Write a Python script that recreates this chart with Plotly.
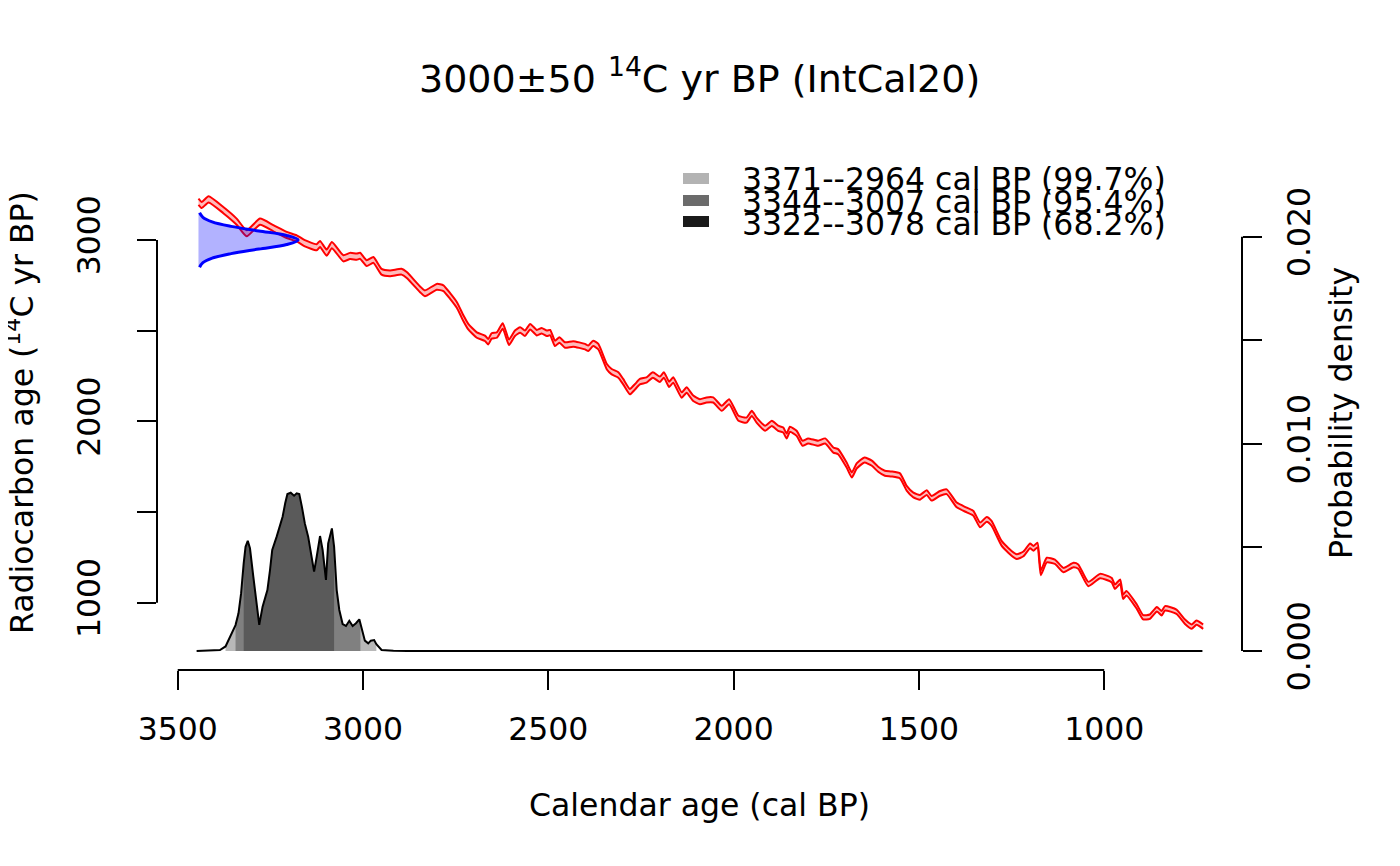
import plotly.graph_objects as go

# -----------------------------------------------------------------------------
# Calibration curve (IntCal20)
# -----------------------------------------------------------------------------
cal_age = [
    3444, 3435, 3417, 3377, 3341, 3314, 3278, 3242, 3206, 3179, 3157, 3125, 3116,
    3098, 3084, 3053, 3035, 3017, 3008, 2990, 2972, 2950, 2927, 2896, 2882, 2846,
    2833, 2801, 2783, 2765, 2747, 2729,
    2716, 2693, 2671, 2662, 2653, 2639, 2623, 2606, 2590, 2576, 2563, 2549, 2531,
    2518, 2504, 2495, 2482, 2470, 2455, 2433, 2401, 2392, 2379, 2365, 2342, 2329,
    2311, 2298, 2280, 2266, 2253, 2235, 2218, 2199, 2188, 2174, 2163, 2140, 2127,
    2109, 2091, 2073, 2055, 2032, 2012, 1987,
    1965, 1951, 1938, 1915, 1897, 1880, 1866, 1857, 1848, 1830, 1814, 1799, 1772,
    1753, 1731, 1718, 1695, 1681, 1668, 1647, 1627, 1610, 1592, 1574, 1551, 1533,
    1515, 1497, 1479, 1466, 1443, 1425, 1398, 1371,
    1353, 1335, 1317, 1304, 1277, 1250, 1236, 1218, 1200, 1191, 1180, 1171, 1155,
    1133, 1110, 1083, 1070, 1043, 1011, 980, 971, 957, 949, 940, 912, 895, 877,
    858, 845, 836, 805, 782, 764, 751, 733,
]
c14_age = [
    3211, 3193, 3224, 3165, 3101, 3037, 3101, 3065, 3028, 3009, 2982, 2960, 2978,
    2930, 2972, 2899, 2912, 2908, 2913, 2872, 2890, 2825, 2816, 2825, 2807, 2728,
    2706, 2742, 2734, 2691, 2642, 2568,
    2522, 2476, 2458, 2439, 2471, 2476, 2526, 2436, 2486, 2504, 2486, 2522, 2489,
    2500, 2486, 2489, 2430, 2449, 2421, 2427, 2412, 2403, 2430, 2412, 2301, 2274,
    2256, 2219, 2164, 2191, 2219, 2228, 2256, 2232, 2256, 2204, 2228, 2145, 2173,
    2127, 2108, 2118, 2118, 2072, 2108, 2017,
    2007, 2044, 2007, 1962, 1989, 1962, 1952, 1919, 1956, 1934, 1879, 1892, 1879,
    1892, 1842, 1833, 1759, 1704, 1754, 1787, 1769, 1736, 1714, 1710, 1699, 1631,
    1594, 1581, 1607, 1576, 1603, 1612, 1539, 1511,
    1493, 1429, 1460, 1438, 1328, 1272, 1254, 1269, 1313, 1300, 1318, 1165, 1235,
    1226, 1180, 1208, 1199, 1103, 1147, 1125, 1088, 1116, 1033, 1052, 978, 920, 923,
    964, 942, 969, 950, 895, 868, 890, 868,
]
c14_err = [
    17, 17, 17, 17, 17, 17, 17, 17, 17, 17, 17, 17, 17,
    17, 17, 17, 17, 17, 17, 16, 16, 16, 16, 16, 16, 16,
    16, 16, 16, 16, 16, 16,
    15, 15, 15, 15, 15, 15, 15, 15, 15, 15, 15, 15, 15,
    15, 15, 15, 15, 15, 15, 15, 15, 15, 15, 15, 15, 15,
    15, 15, 15, 15, 15, 15, 15, 15, 15, 15, 15, 15, 15,
    15, 14, 14, 14, 14, 14, 14,
    14, 14, 14, 14, 14, 14, 14, 14, 14, 14, 14, 14, 14,
    14, 14, 14, 14, 14, 14, 14, 14, 14, 14, 14, 14, 13,
    13, 13, 13, 13, 13, 13, 13, 13,
    13, 13, 13, 13, 13, 13, 13, 13, 13, 13, 13, 13, 13,
    12, 12, 12, 12, 12, 12, 12, 12, 12, 12, 12, 12, 12, 12,
    12, 12, 12, 12, 12, 12, 12, 12,
]

# -----------------------------------------------------------------------------
# Calibrated probability density
# -----------------------------------------------------------------------------
dens_age = [
    3449, 3386, 3371, 3359, 3344, 3336, 3329, 3322, 3317, 3311, 3305, 3296, 3287,
    3280, 3271, 3258, 3251, 3245, 3233, 3224, 3217, 3210, 3204, 3195, 3186, 3179,
    3172, 3165, 3157, 3148, 3138, 3132, 3125, 3116, 3109, 3100, 3094, 3084, 3078,
    3071, 3064, 3055, 3046, 3037, 3028, 3019, 3010, 3007, 3003, 2995, 2986, 2979,
    2970, 2964, 2950, 2918, 2880, 735,
]
dens_prob = [
    0.0, 0.00005, 0.00022, 0.00069, 0.00125, 0.00182, 0.00278, 0.00423, 0.00503,
    0.00532, 0.00496, 0.00359, 0.00214, 0.00126, 0.00214, 0.00294, 0.00391,
    0.00488, 0.00552, 0.00608, 0.00648, 0.00713, 0.00758, 0.00764, 0.00750,
    0.00761, 0.00758, 0.00697, 0.00616, 0.00552, 0.00447, 0.00383, 0.00455,
    0.00555, 0.00488, 0.00343, 0.00520, 0.00592, 0.00503, 0.00294, 0.00198,
    0.00130, 0.00121, 0.00146, 0.00121, 0.00134, 0.00153, 0.00133, 0.00105,
    0.00050, 0.00037, 0.00050, 0.00053, 0.00033, 0.00005, 0.00001, 0.0, 0.0,
]

# -----------------------------------------------------------------------------
# Measurement 3000+-50, drawn sideways from the left edge of the curve
# -----------------------------------------------------------------------------
meas_c14 = [2850, 2875, 2900, 2925, 2950, 2975, 3000, 3025, 3050, 3075, 3100, 3125, 3150]
meas_width = [3, 12, 37, 88, 163, 238, 269, 238, 163, 88, 37, 12, 3]
meas_base = 3444

# Highest density ranges
hpd_labels = ["3371--2964 cal BP (99.7%)", "3344--3007 cal BP (95.4%)", "3322--3078 cal BP (68.2%)"]
hpd_from = [3371, 3344, 3322]
hpd_to = [2964, 3007, 3078]

# -----------------------------------------------------------------------------
# Styling / geometry
# -----------------------------------------------------------------------------
FONT = "DejaVu Sans"
FS = 31.5
HPD_FILL = ["#b8b8b8", "#808080", "#5a5a5a"]
HPD_KEY = ["#b3b3b3", "#6b6b6b", "#1a1a1a"]

OFF = 8  # page body margin in the browser
W, H = 1400 - 2 * OFF, 866 - 2 * OFF
ML, MR, MT, MB = 149, 150, 148, 188
PW, PH = W - ML - MR, H - MT - MB


def py(y_px):
    """screen pixel row -> paper y"""
    return (H - MB - (y_px - OFF)) / PH


def px(x_px):
    """screen pixel column -> paper x"""
    return (x_px - OFF - ML) / PW


fig = go.Figure()

# calibration curve band
upper = [m + e for m, e in zip(c14_age, c14_err)]
lower = [m - e for m, e in zip(c14_age, c14_err)]
curve_line = dict(color="red", width=2, shape="spline", smoothing=0.5)
fig.add_trace(go.Scatter(x=cal_age, y=lower, mode="lines",
                         line=curve_line, hoverinfo="skip"))
fig.add_trace(go.Scatter(x=cal_age, y=upper, mode="lines", fill="tonexty",
                         fillcolor="rgba(255,0,0,0.27)",
                         line=curve_line, hoverinfo="skip"))

# measurement distribution
gx = [meas_base - w for w in meas_width]
fig.add_trace(go.Scatter(x=[meas_base] + gx + [meas_base],
                         y=[meas_c14[0]] + meas_c14 + [meas_c14[-1]],
                         mode="lines", fill="toself", fillcolor="rgba(0,0,255,0.3)",
                         line=dict(width=0, shape="spline"), hoverinfo="skip"))
fig.add_trace(go.Scatter(x=gx, y=meas_c14, mode="lines",
                         line=dict(color="blue", width=3, shape="spline"), hoverinfo="skip"))

# hpd shading under the density
for lo, hi, col in zip(hpd_from, hpd_to, HPD_FILL):
    sx = [a for a in dens_age if hi <= a <= lo]
    sy = [p for a, p in zip(dens_age, dens_prob) if hi <= a <= lo]
    fig.add_trace(go.Scatter(x=sx, y=sy, yaxis="y2", mode="lines", fill="tozeroy",
                             fillcolor=col, line=dict(width=0), hoverinfo="skip"))

fig.add_trace(go.Scatter(x=dens_age, y=dens_prob, yaxis="y2", mode="lines",
                         line=dict(color="black", width=2), hoverinfo="skip"))

# -----------------------------------------------------------------------------
# Axes (R style: detached axis lines, outside ticks)
# -----------------------------------------------------------------------------
axis_common = dict(showgrid=False, zeroline=False, showline=False, ticks="outside",
                   ticklen=19, tickwidth=2, tickcolor="black",
                   tickfont=dict(family=FONT, size=FS, color="black"))

fig.update_layout(
    width=W, height=H,
    margin=dict(l=ML, r=MR, t=MT, b=MB),
    paper_bgcolor="white", plot_bgcolor="white",
    showlegend=False,
    font=dict(family=FONT, size=FS, color="black"),
    xaxis=dict(range=[3555.9, 628.2], tickvals=[3500, 3000, 2500, 2000, 1500, 1000],
               ticklabelstandoff=12, **axis_common),
    yaxis=dict(range=[628.9, 3463.2], tickvals=[1000, 1500, 2000, 2500, 3000],
               ticktext=["1000", "", "2000", "", "3000"], tickangle=-90,
               ticklabelstandoff=24, **axis_common),
    yaxis2=dict(range=[-0.000917, 0.023896], overlaying="y", side="right", anchor="x",
                tickvals=[0, 0.005, 0.01, 0.015, 0.02],
                ticktext=["0.000", "", "0.010", "", "0.020"], tickangle=-90,
                ticklabelstandoff=10, **axis_common),
)

line_style = dict(color="black", width=2)
fig.add_shape(type="line", xref="x", yref="paper", x0=3500, x1=1000, y0=0, y1=0, line=line_style)
fig.add_shape(type="line", xref="paper", yref="y", x0=0, x1=0, y0=1000, y1=3000, line=line_style)
fig.add_shape(type="line", xref="paper", yref="y2", x0=1, x1=1, y0=0, y1=0.02, line=line_style)

# titles
fig.add_annotation(text="3000±50 <sup>14</sup>C yr BP (IntCal20)", xref="paper", yref="paper",
                   x=px(699), y=py(76), showarrow=False, font=dict(size=38),
                   xanchor="center", yanchor="middle")
fig.add_annotation(text="Calendar age (cal BP)", xref="paper", yref="paper",
                   x=0.5, y=py(805), showarrow=False, xanchor="center", yanchor="middle")
fig.add_annotation(text="Radiocarbon age (<sup>14</sup>C yr BP)", xref="paper", yref="paper",
                   x=px(20), y=0.5, showarrow=False, textangle=-90,
                   xanchor="center", yanchor="middle")
fig.add_annotation(text="Probability density", xref="paper", yref="paper",
                   x=px(1341), y=0.5, showarrow=False, textangle=-90,
                   xanchor="center", yanchor="middle")

# legend (overlapping rows, like the original)
key_rows = [178.5, 200.5, 221.5]
text_rows = [179.5, 201.5, 223.5]
for lab, col, kr, tr in zip(hpd_labels, HPD_KEY, key_rows, text_rows):
    fig.add_shape(type="rect", xref="paper", yref="paper",
                  x0=px(683), x1=px(709), y0=py(kr + 5.5), y1=py(kr - 5.5),
                  fillcolor=col, line=dict(width=0))
    fig.add_annotation(text=lab, xref="paper", yref="paper", x=px(740), y=py(tr),
                       showarrow=False, xanchor="left", yanchor="middle")

fig.write_html("out.html")
